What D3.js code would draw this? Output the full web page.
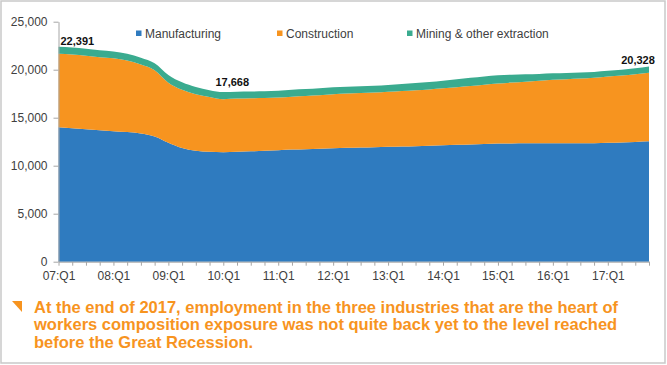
<!DOCTYPE html>
<html>
<head>
<meta charset="utf-8">
<script src="https://cdnjs.cloudflare.com/ajax/libs/d3/7.8.5/d3.min.js"></script>
<style>
	html, body { margin: 0; padding: 0; background: #fff; }
	svg { display: block; font-family: "Liberation Sans", Arial, sans-serif; }
</style>
</head>
<body>
<svg id="chart" width="667" height="365"></svg>
<script>
// quarters 07:Q1 .. 17:Q4
var years = ["07","08","09","10","11","12","13","14","15","16","17"];
var quarters = [];
years.forEach(function(y){ for (var q = 1; q <= 4; q++) quarters.push(y + ":Q" + q); });

var seriesNames = ["Manufacturing", "Construction", "Mining & other extraction"];
var seriesColors = ["#2f7bbf", "#f7941f", "#3aab8f"];

// thousands of jobs
var manufacturing = [
	14000, 13900, 13800, 13700,
	13600, 13500, 13350, 13050,
	12400, 11850, 11550, 11450,
	11400, 11450, 11500, 11550,
	11620, 11680, 11720, 11760,
	11820, 11870, 11900, 11930,
	11970, 12000, 12030, 12070,
	12120, 12170, 12220, 12260,
	12300, 12320, 12330, 12330,
	12330, 12330, 12330, 12340,
	12380, 12420, 12470, 12540
];
var construction = [
	7650, 7680, 7650, 7600,
	7580, 7450, 7200, 6900,
	6250, 6050, 5900, 5700,
	5528, 5540, 5520, 5500,
	5480, 5510, 5540, 5570,
	5620, 5640, 5660, 5700,
	5740, 5790, 5840, 5880,
	5940, 6010, 6080, 6170,
	6260, 6340, 6420, 6510,
	6620, 6680, 6750, 6820,
	6920, 6980, 7060, 7150
];
var mining = [
	741, 740, 740, 730,
	720, 710, 700, 720,
	800, 780, 740, 710,
	740, 720, 710, 700,
	700, 710, 720, 730,
	730, 720, 710, 700,
	700, 720, 750, 780,
	800, 830, 850, 860,
	860, 820, 770, 720,
	680, 650, 630, 610,
	590, 600, 620, 638
];
var yTicks = [0, 5000, 10000, 15000, 20000, 25000];
var note = [
	"At the end of 2017, employment in the three industries that are the heart of",
	"workers composition exposure was not quite back yet to the level reached",
	"before the Great Recession."
];

var svg = d3.select("#chart");
var W = 667, H = 365;
var plot = { left: 58.5, right: 649, top: 21.7, bottom: 261.7 };

// frame
svg.append("rect").attr("x", 1).attr("y", 1).attr("width", W - 3).attr("height", H - 3)
	.attr("fill", "#fff").attr("stroke", "#c9c9c9").attr("stroke-width", 1.5);

var rows = quarters.map(function(q, i){
	return { q: q, i: i, m: manufacturing[i], c: construction[i], x: mining[i] };
});
var totals = rows.map(function(d){ return d.m + d.c + d.x; });

var x = d3.scaleLinear().domain([0, quarters.length - 1]).range([plot.left, plot.right]);
var y = d3.scaleLinear().domain([0, 25000]).range([plot.bottom, plot.top]);

var stack = d3.stack().keys(["m", "c", "x"]);
var layers = stack(rows);

var area = d3.area()
	.x(function(d, i){ return x(i); })
	.y0(function(d){ return y(d[0]); })
	.y1(function(d){ return y(d[1]); })
	.curve(d3.curveMonotoneX);

svg.append("g").selectAll("path").data(layers).enter().append("path")
	.attr("d", area)
	.attr("fill", function(d, i){ return seriesColors[i]; });

// y axis
var yAxis = d3.axisLeft(y).tickValues(yTicks).tickSize(5).tickSizeOuter(0)
	.tickFormat(d3.format(","));
var gy = svg.append("g").attr("transform", "translate(" + plot.left + ",0)").call(yAxis);
gy.select(".domain").attr("stroke", "#a6a6a6");
gy.selectAll(".tick line").attr("stroke", "#a6a6a6");
gy.selectAll(".tick text").attr("x", -11).attr("fill", "#404040")
	.attr("font-size", 12).attr("font-family", "Liberation Sans, Arial, sans-serif");

// x axis
var xAxis = d3.axisBottom(x).tickValues(d3.range(quarters.length)).tickSize(4).tickSizeOuter(0)
	.tickFormat(function(i){ return i % 4 === 0 ? quarters[i] : ""; });
var gx = svg.append("g").attr("transform", "translate(0," + plot.bottom + ")").call(xAxis);
gx.select(".domain").attr("stroke", "#a6a6a6");
gx.selectAll(".tick line").attr("stroke", "#a6a6a6");
gx.selectAll(".tick text").attr("y", 10).attr("fill", "#404040")
	.attr("font-size", 12).attr("font-family", "Liberation Sans, Arial, sans-serif");

// legend
var legendX = [136, 277, 407];
var lg = svg.append("g").selectAll("g").data(seriesNames).enter().append("g");
lg.append("rect")
	.attr("x", function(d, i){ return legendX[i]; }).attr("y", 30.5)
	.attr("width", 5.5).attr("height", 5.5)
	.attr("fill", function(d, i){ return seriesColors[i]; });
lg.append("text")
	.attr("x", function(d, i){ return legendX[i] + 9; }).attr("y", 37.5)
	.attr("font-size", 12).attr("fill", "#404040")
	.text(function(d){ return d; });

// value labels: first, lowest, last
var minIdx = d3.minIndex(totals);
var last = totals.length - 1;
var fmt = d3.format(",");
var labels = [
	{ i: 0, dx: 2, dy: -2, anchor: "start" },
	{ i: minIdx, dx: 9, dy: -6, anchor: "middle" },
	{ i: last, dx: -11, dy: -2.5, anchor: "middle" }
];
svg.append("g").selectAll("text").data(labels).enter().append("text")
	.attr("x", function(d){ return x(d.i) + d.dx; })
	.attr("y", function(d){ return y(totals[d.i]) + d.dy; })
	.attr("text-anchor", function(d){ return d.anchor; })
	.attr("font-size", 11).attr("font-weight", "bold").attr("fill", "#111")
	.text(function(d){ return fmt(totals[d.i]); });

// note underneath
svg.append("path").attr("d", "M12,301 L22,301 L22,312 Z").attr("fill", "#f7941f");
svg.append("g").selectAll("text").data(note).enter().append("text")
	.attr("x", 34)
	.attr("y", function(d, i){ return 312.5 + i * 17.5; })
	.attr("font-size", 16.5).attr("font-weight", "bold").attr("fill", "#f7941f")
	.text(function(d){ return d; });
</script>
</body>
</html>
